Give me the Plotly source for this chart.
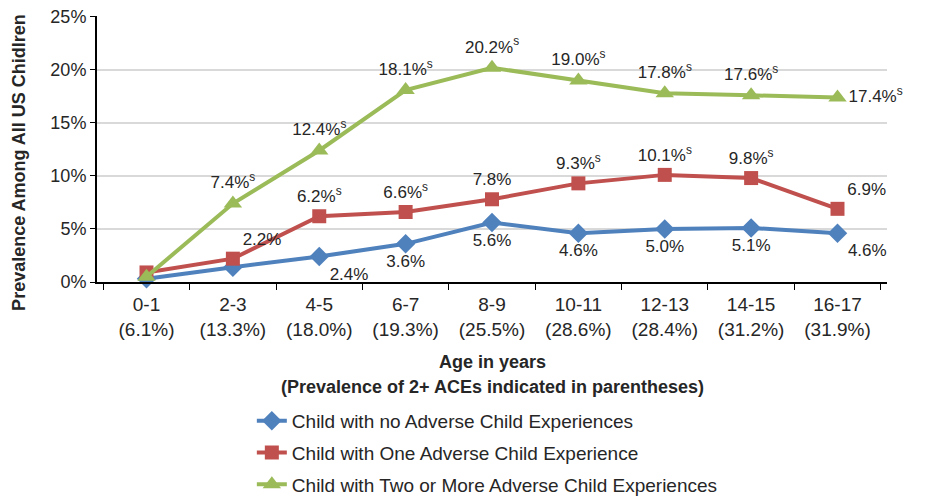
import plotly.graph_objects as go

categories = ["0-1<br>(6.1%)", "2-3<br>(13.3%)", "4-5<br>(18.0%)", "6-7<br>(19.3%)", "8-9<br>(25.5%)",
              "10-11<br>(28.6%)", "12-13<br>(28.4%)", "14-15<br>(31.2%)", "16-17<br>(31.9%)"]

none_vals = [0.3, 1.4, 2.4, 3.6, 5.6, 4.6, 5.0, 5.1, 4.6]
one_vals = [0.9, 2.2, 6.2, 6.6, 7.8, 9.3, 10.1, 9.8, 6.9]
two_vals = [0.5, 7.4, 12.4, 18.1, 20.2, 19.0, 17.8, 17.6, 17.4]

none_labels = ["", "", "2.4%", "3.6%", "5.6%", "4.6%", "5.0%", "5.1%", "4.6%"]
one_labels = ["", "2.2%", "6.2%<sup>s</sup>", "6.6%<sup>s</sup>", "7.8%", "9.3%<sup>s</sup>",
              "10.1%<sup>s</sup>", "9.8%<sup>s</sup>", "6.9%"]
two_labels = ["", "7.4%<sup>s</sup>", "12.4%<sup>s</sup>", "18.1%<sup>s</sup>", "20.2%<sup>s</sup>",
              "19.0%<sup>s</sup>", "17.8%<sup>s</sup>", "17.6%<sup>s</sup>", "17.4%<sup>s</sup>"]

y_tickvals = [0, 5, 10, 15, 20, 25]
y_ticktext = ["0%", "5%", "10%", "15%", "20%", "25%"]

series_names = ["Child with no Adverse Child Experiences",
                "Child with One Adverse Child Experience",
                "Child with Two or More Adverse Child Experiences"]

FONT = "Liberation Sans, Arial, sans-serif"
TXT = "#262626"
C_BLUE, C_RED, C_GREEN = "#4F81BD", "#C0504D", "#9BBB59"

fig = go.Figure()
fig.add_trace(go.Scatter(
    x=categories, y=none_vals, name=series_names[0], legendgroup="a",
    mode="lines+markers+text", text=none_labels,
    textposition=["bottom center", "bottom center", "bottom right", "bottom center", "bottom center",
                  "bottom center", "bottom center", "bottom center", "bottom right"],
    line=dict(color=C_BLUE, width=4), marker=dict(symbol="diamond", size=15, color=C_BLUE),
    textfont=dict(size=17, color=TXT), cliponaxis=False))
fig.add_trace(go.Scatter(
    x=categories, y=one_vals, name=series_names[1], legendgroup="b",
    mode="lines+markers+text", text=one_labels,
    textposition=["top center", "top right", "top center", "top center", "top center",
                  "top center", "top center", "top center", "top right"],
    line=dict(color=C_RED, width=4), marker=dict(symbol="square", size=14, color=C_RED),
    textfont=dict(size=17, color=TXT), cliponaxis=False))
fig.add_trace(go.Scatter(
    x=categories, y=two_vals, name=series_names[2], legendgroup="c",
    mode="lines+markers+text", text=two_labels,
    textposition=["top center", "top center", "top center", "top center", "top center",
                  "top center", "top center", "top center", "middle right"],
    line=dict(color=C_GREEN, width=4), marker=dict(symbol="triangle-up", size=16, color=C_GREEN),
    textfont=dict(size=17, color=TXT), cliponaxis=False))

fig.update_layout(
    width=935, height=498,
    margin=dict(l=89, r=56, t=8, b=224, autoexpand=False),
    paper_bgcolor="white", plot_bgcolor="white",
    font=dict(family=FONT, size=18, color=TXT),
    showlegend=True,
    legend=dict(x=0.196, y=-0.451, xanchor="left", yanchor="top", orientation="v",
                font=dict(size=19, color=TXT), tracegroupgap=4,
                bgcolor="rgba(0,0,0,0)"),
    xaxis=dict(type="category", showline=True, linecolor="black", linewidth=2,
               ticks="outside", tickson="boundaries", ticklen=6, tickcolor="black",
               showgrid=False, tickfont=dict(size=19), ticklabelstandoff=4),
    yaxis=dict(range=[0, 25.08], tickmode="array", tickvals=y_tickvals, ticktext=y_ticktext,
               showline=True, linecolor="black", ticklabeloverflow="allow",
               linewidth=2, ticks="outside", ticklen=5, tickcolor="black",
               gridcolor="#D9D9D9", gridwidth=1.5, tickfont=dict(size=18), zeroline=False),
    annotations=[
        dict(text="<b>Age in years</b>", x=0.5, y=-0.30, xref="paper", yref="paper",
             xanchor="center", yanchor="middle", showarrow=False, font=dict(size=18)),
        dict(text="<b>(Prevalence of 2+ ACEs indicated in parentheses)</b>", x=0.5, y=-0.395,
             xref="paper", yref="paper", xanchor="center", yanchor="middle",
             showarrow=False, font=dict(size=18)),
        dict(text="<b>Prevalence Among All US Chidlren</b>", x=-0.098, y=0.45,
             xref="paper", yref="paper", xanchor="center", yanchor="middle",
             showarrow=False, textangle=-90, font=dict(size=18)),
    ],
)

fig.write_html("out.html")
